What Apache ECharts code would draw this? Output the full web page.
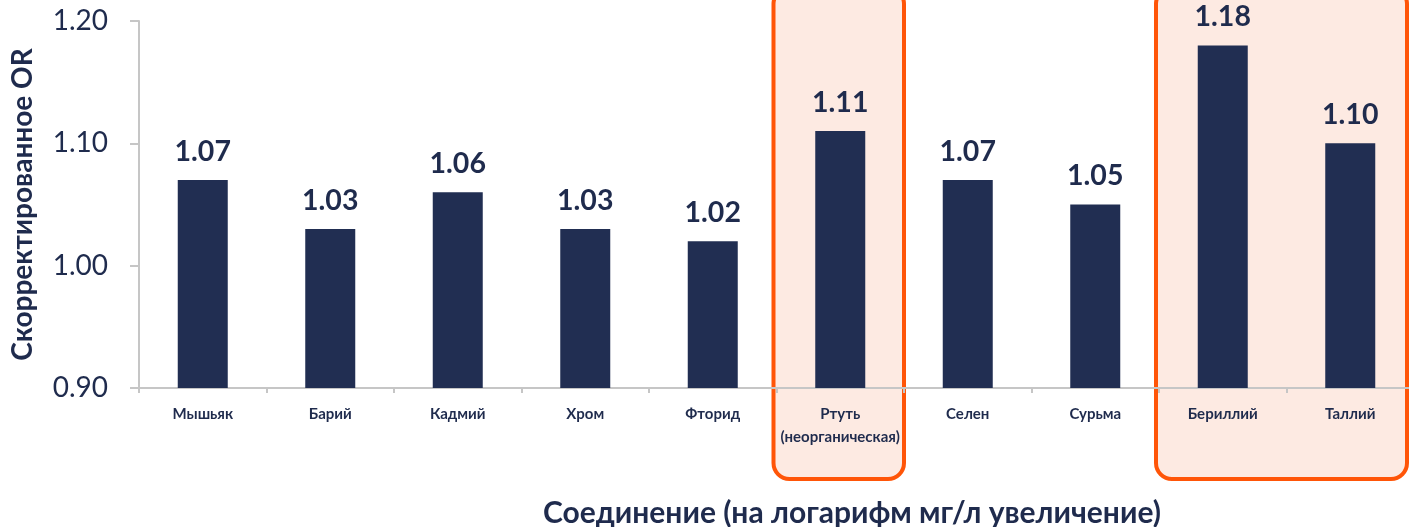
<!DOCTYPE html>
<html>
<head>
<meta charset="utf-8">
<script src="https://cdn.jsdelivr.net/npm/echarts@6/dist/echarts.min.js"></script>
<style>
html,body{margin:0;padding:0;background:#fff;}
#chart{width:1409px;height:527px;}
</style>
</head>
<body>
<div id="chart"></div>
<script>
const categories = ['Мышьяк','Барий','Кадмий','Хром','Фторид','Ртуть\n(неорганическая)','Селен','Сурьма','Бериллий','Таллий'];
const values = [1.07, 1.03, 1.06, 1.03, 1.02, 1.11, 1.07, 1.05, 1.18, 1.10];
const yTicks = [0.90, 1.00, 1.10, 1.20];
const highlightGroups = [[5, 5], [8, 9]];
const yTitle = 'Скорректированное OR';
const xTitle = 'Соединение (на логарифм мг/л увеличение)';

const NAVY = '#212E52';
const TXT = '#1F2B4D';
const FONT = 'Lato, "Open Sans", sans-serif';

const chart = echarts.init(document.getElementById('chart'));
const option = {
  animation: false,
  backgroundColor: '#ffffff',
  grid: { left: 139, top: 21, width: 1275, height: 367, containLabel: false, outerBoundsMode: 'none' },
  xAxis: {
    type: 'category',
    data: categories,
    axisLine: { lineStyle: { color: '#C6C6C6', width: 2 } },
    axisTick: { show: true, length: 5, alignWithLabel: false, lineStyle: { color: '#C6C6C6', width: 2 } },
    axisLabel: { color: TXT, fontFamily: FONT, fontWeight: 'bold', fontSize: 15, margin: 15, lineHeight: 23, interval: 0 },
    splitLine: { show: false }
  },
  yAxis: {
    type: 'value',
    min: yTicks[0],
    max: yTicks[yTicks.length - 1],
    interval: 0.1,
    axisLine: { show: true, lineStyle: { color: '#C6C6C6', width: 2 } },
    axisTick: { show: true, length: 9, lineStyle: { color: '#C6C6C6', width: 2 } },
    axisLabel: { color: TXT, fontFamily: FONT, fontSize: 28, margin: 31, formatter: v => v.toFixed(2) },
    splitLine: { show: false }
  },
  series: [{
    type: 'bar',
    data: values,
    barWidth: 50,
    itemStyle: { color: NAVY },
    label: {
      show: true, position: 'top', distance: 14,
      color: TXT, fontFamily: FONT, fontWeight: 'bold', fontSize: 28.5,
      formatter: p => p.value.toFixed(2)
    },
    z: 3
  }]
};
chart.setOption(option);

// highlight boxes computed from category positions
const bandW = chart.convertToPixel({ xAxisIndex: 0 }, categories[1]) - chart.convertToPixel({ xAxisIndex: 0 }, categories[0]);
const boxes = highlightGroups.map(([a, b]) => {
  const x0 = chart.convertToPixel({ xAxisIndex: 0 }, categories[a]) - bandW / 2 - 3;
  let x1 = chart.convertToPixel({ xAxisIndex: 0 }, categories[b]) + bandW / 2;
  x1 = Math.min(x1, 1407);
  return {
    type: 'rect', z: -1, silent: true,
    shape: { x: x0, y: -12, width: x1 - x0, height: 491, r: 16 },
    style: { fill: '#FDEAE2', stroke: '#FF5508', lineWidth: 4 }
  };
});
const yMid = (chart.convertToPixel({ yAxisIndex: 0 }, yTicks[0]) + chart.convertToPixel({ yAxisIndex: 0 }, yTicks[yTicks.length - 1])) / 2;
chart.setOption({
  graphic: [{
    type: 'text', x: 852, y: 513, z: 10,
    style: { text: xTitle, fill: TXT, font: 'bold 30px ' + FONT, textAlign: 'center', textVerticalAlign: 'middle' }
  }, {
    type: 'text', x: 23, y: yMid, rotation: Math.PI / 2, z: 10,
    style: { text: yTitle, fill: TXT, font: 'bold 28px ' + FONT, textAlign: 'center', textVerticalAlign: 'middle' }
  }].concat(boxes)
});
</script>
</body>
</html>
